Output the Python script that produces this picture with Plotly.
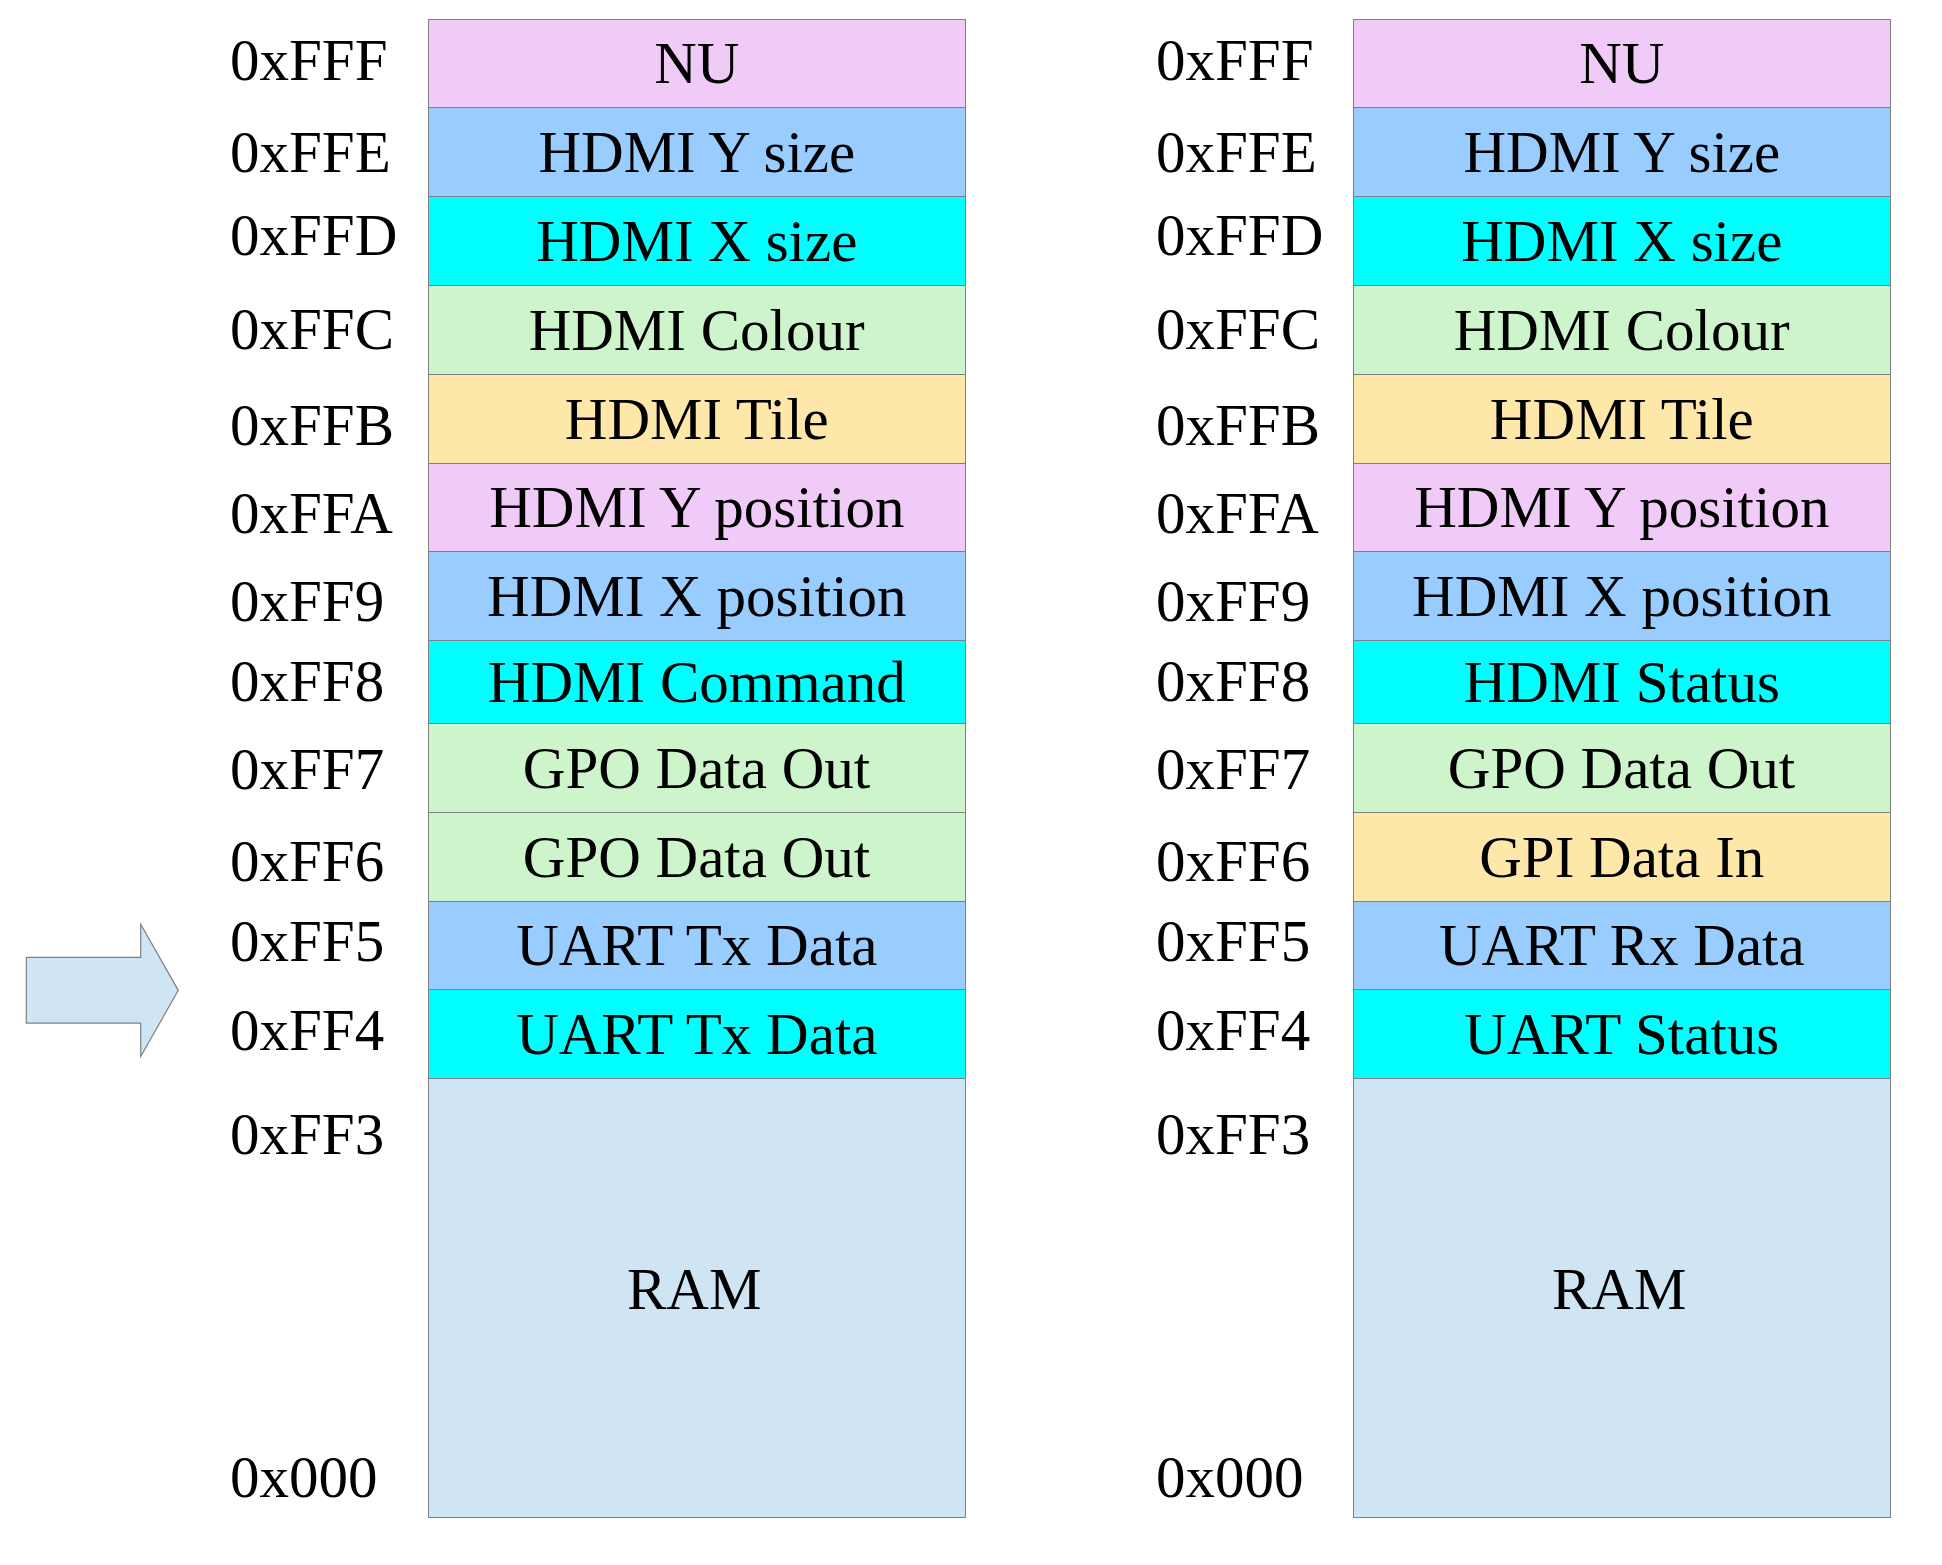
import plotly.graph_objects as go

# memory map rows from 0x000 upward, heights in register-row units
row_height = [4.94, 1, 1, 1, 1, 0.93, 1, 1, 1, 1, 1, 1, 1]
left_names = ["RAM", "UART Tx Data", "UART Tx Data", "GPO Data Out", "GPO Data Out",
              "HDMI Command", "HDMI X position", "HDMI Y position", "HDMI Tile",
              "HDMI Colour", "HDMI X size", "HDMI Y size", "NU"]
right_names = ["RAM", "UART Status", "UART Rx Data", "GPI Data In", "GPO Data Out",
               "HDMI Status", "HDMI X position", "HDMI Y position", "HDMI Tile",
               "HDMI Colour", "HDMI X size", "HDMI Y size", "NU"]

ram = "#cfe5f3"
cyan = "#00ffff"
blue = "#99ccff"
green = "#cdf4ca"
yellow = "#fde8aa"
pink = "#f1cbf8"
left_colors = [ram, cyan, blue, green, green, cyan, blue, pink, yellow, green, cyan, blue, pink]
right_colors = [ram, cyan, blue, yellow, green, cyan, blue, pink, yellow, green, cyan, blue, pink]

addr_labels = ["0x000", "0xFF3", "0xFF4", "0xFF5", "0xFF6", "0xFF7", "0xFF8",
               "0xFF9", "0xFFA", "0xFFB", "0xFFC", "0xFFD", "0xFFE", "0xFFF"]
addr_pos = [0.46, 4.32, 5.49, 6.50, 7.40, 8.43, 9.42, 10.32, 11.31, 12.31,
            13.39, 14.44, 15.375, 16.41]
ram_text_pos = 2.58  # RAM label sits a bit above the middle of its block

# layout (x axis in page pixels)
col_x = [697, 1622]
bar_w = 537
label_x = [228, 1154]
font = dict(family="Liberation Serif, Times New Roman, serif", size=59, color="black")
edge = "#808080"

fig = go.Figure()
for i, (h, lc, rc) in enumerate(zip(row_height, left_colors, right_colors)):
    txt = ["", ""] if i == 0 else [left_names[i], right_names[i]]
    fig.add_trace(go.Bar(
        x=col_x, y=[h, h], width=bar_w,
        text=txt, textposition="inside", insidetextanchor="middle",
        textangle=0, constraintext="none", textfont=font,
        marker=dict(color=[lc, rc], line=dict(color=edge, width=1.4)),
        hoverinfo="none", showlegend=False,
    ))

for cx, name in zip(col_x, [left_names[0], right_names[0]]):
    fig.add_annotation(x=cx - 3, y=ram_text_pos, text=name, showarrow=False,
                       xanchor="center", yanchor="middle", font=font)

for lx in label_x:
    for lab, pos in zip(addr_labels, addr_pos):
        fig.add_annotation(x=lx, y=pos, text=lab, showarrow=False,
                           xanchor="left", yanchor="middle", font=font)

# block arrow pointing at the UART rows
arrow_y = sum(row_height[:2])
body, head = 0.37, 0.745
x0, x1, x2 = 26.3, 140.7, 178.3
arrow_path = (f"M {x0},{arrow_y + body} L {x1},{arrow_y + body} L {x1},{arrow_y + head} "
              f"L {x2},{arrow_y} L {x1},{arrow_y - head} L {x1},{arrow_y - body} "
              f"L {x0},{arrow_y - body} Z")
fig.add_shape(type="path", path=arrow_path, xref="x", yref="y",
              fillcolor=ram, line=dict(color=edge, width=1.2))

fig.update_layout(
    width=1926, height=1549,
    margin=dict(l=0, r=0, t=0, b=0),
    paper_bgcolor="white", plot_bgcolor="white",
    barmode="stack", bargap=0,
    xaxis=dict(range=[8, 1934], visible=False),
    yaxis=dict(range=[-0.44, 17.0], visible=False),
)

fig.write_html("out.html")
